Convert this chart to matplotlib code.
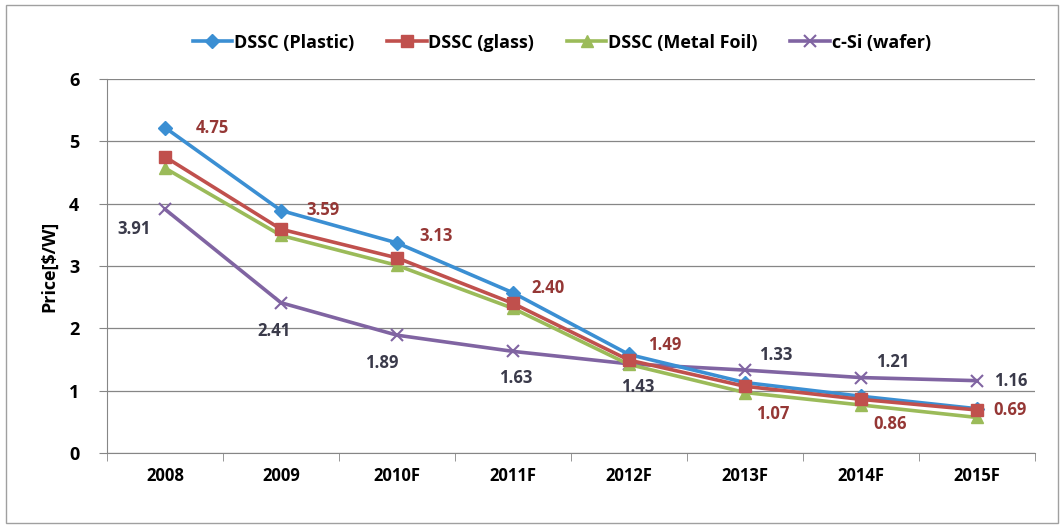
import numpy as np
import matplotlib
matplotlib.use("Agg")
import matplotlib.pyplot as plt
from matplotlib.patches import Rectangle

plt.rcParams['font.family'] = ['Open Sans', 'DejaVu Sans']

years = ['2008', '2009', '2010F', '2011F', '2012F', '2013F', '2014F', '2015F']
plastic = [5.22, 3.89, 3.37, 2.57, 1.58, 1.13, 0.91, 0.71]
glass = [4.75, 3.59, 3.13, 2.40, 1.49, 1.07, 0.86, 0.69]
metal_foil = [4.57, 3.49, 3.01, 2.32, 1.42, 0.97, 0.77, 0.57]
c_si = [3.91, 2.41, 1.89, 1.63, 1.43, 1.33, 1.21, 1.16]

# label offsets in points
glass_off = [(34, 21), (30, 14), (28, 16), (25, 11), (26, 11), (20, -20), (21, -18), (24, 0)]
csi_off = [(-22, -14), (-5, -20), (-11, -20), (2, -19), (6, -17), (22, 11), (23, 11), (24, 0)]

fig = plt.figure(figsize=(10.64, 5.29), dpi=100)
ax = fig.add_axes([0.1006, 0.1437, 0.8721, 0.707])
fig.add_artist(Rectangle((0.006, 0.012), 0.988, 0.978, transform=fig.transFigure,
                         fill=False, edgecolor='#a0a0a0', linewidth=1.0))

x = np.arange(len(years))
ax.plot(x, plastic, color='#3b8fd3', lw=2.6, marker='D', ms=7, label='DSSC (Plastic)', zorder=3)
ax.plot(x, glass, color='#c0504d', lw=2.6, marker='s', ms=8, label='DSSC (glass)', zorder=4)
ax.plot(x, metal_foil, color='#9bbb59', lw=2.6, marker='^', ms=8, label='DSSC (Metal Foil)', zorder=3)
ax.plot(x, c_si, color='#8064a2', lw=2.6, marker='x', ms=9, mew=1.5, label='c-Si (wafer)', zorder=2)

for i in range(len(years)):
    ax.annotate(f'{glass[i]:.2f}', (x[i], glass[i]), xytext=glass_off[i], textcoords='offset points',
                ha='center', va='center', fontsize=12, fontweight='bold', color='#953735')
    ax.annotate(f'{c_si[i]:.2f}', (x[i], c_si[i]), xytext=csi_off[i], textcoords='offset points',
                ha='center', va='center', fontsize=12, fontweight='bold', color='#3a3a4a')

ax.set_xlim(-0.5, len(years) - 0.5)
ax.set_ylim(0, 6)
ax.set_yticks(range(0, 7))
ax.set_xticks(x)
ax.set_xticklabels(years)
ax.set_xticks(np.arange(-0.5, len(years)), minor=True)
ax.tick_params(axis='x', which='major', length=0, pad=10)
ax.tick_params(axis='x', which='minor', length=6, color='#868686')
ax.tick_params(axis='y', length=6, color='#868686', pad=14)
for lab in ax.get_xticklabels():
    lab.set_fontweight('bold')
    lab.set_fontsize(12)
for lab in ax.get_yticklabels():
    lab.set_fontweight('bold')
    lab.set_fontsize(13)
ax.grid(axis='y', color='#868686', lw=0.9)
ax.set_axisbelow(True)
for s in ['top', 'right']:
    ax.spines[s].set_visible(False)
for s in ['left', 'bottom']:
    ax.spines[s].set_color('#868686')
ax.set_ylabel('Price[$/W]', fontsize=13, fontweight='bold', labelpad=8)

ax.legend(loc='lower center', bbox_to_anchor=(0.49, 1.03), ncol=4, frameon=False,
          prop={'weight': 'bold', 'size': 13}, handlelength=2.2, columnspacing=1.8,
          handletextpad=0.1)

fig.savefig('out.png', dpi=100)
